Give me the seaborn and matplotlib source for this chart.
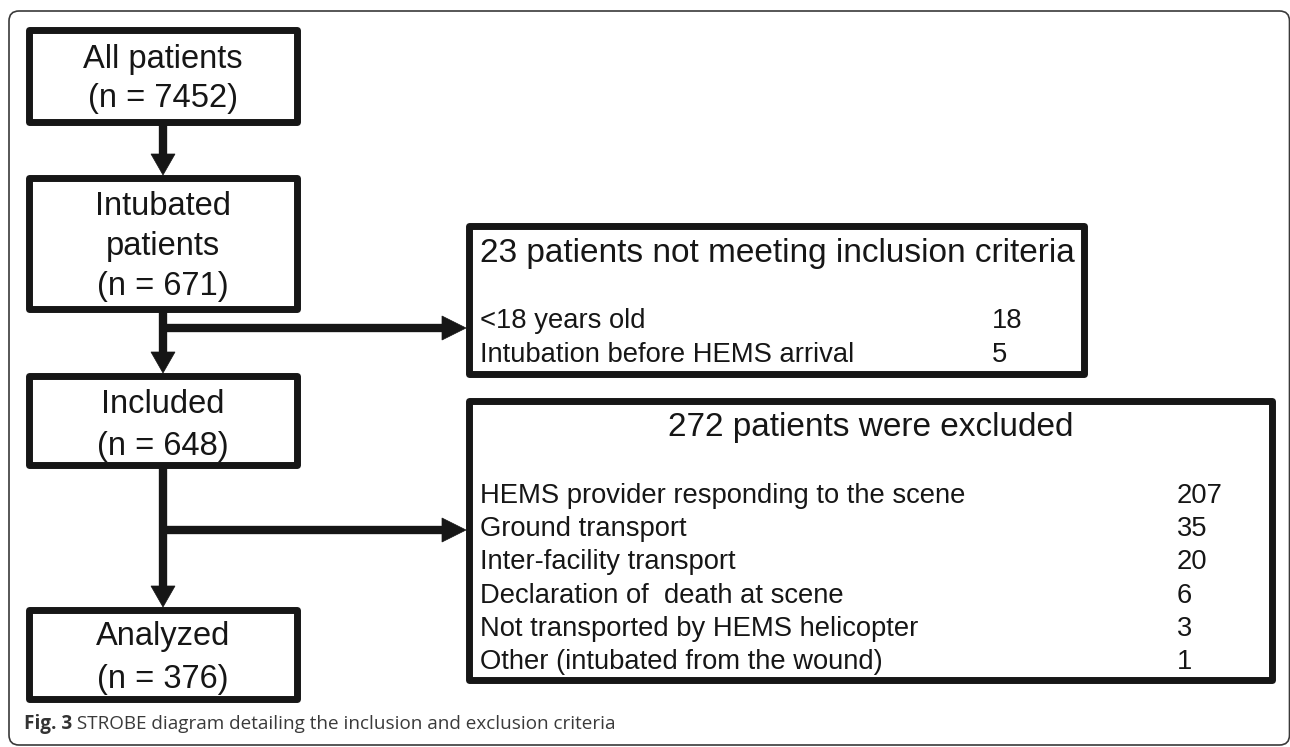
import matplotlib
matplotlib.use("Agg")
import matplotlib.pyplot as plt
from matplotlib.patches import Rectangle, Polygon, FancyBboxPatch
import seaborn as sns

# --- données du diagramme STROBE ---
flow_labels = ["All patients", "Intubated\npatients", "Included", "Analyzed"]
flow_n = [7452, 671, 648, 376]

excl1_reasons = ["<18 years old", "Intubation before HEMS arrival"]
excl1_counts = [18, 5]

excl2_reasons = ["HEMS provider responding to the scene", "Ground transport",
                 "Inter-facility transport", "Declaration of  death at scene",
                 "Not transported by HEMS helicopter", "Other (intubated from the wound)"]
excl2_counts = [207, 35, 20, 6, 3, 1]

caption_bold = "Fig. 3"
caption_text = " STROBE diagram detailing the inclusion and exclusion criteria"

# --- mise en page (pixels, y vers le bas) ---
W, H = 1290, 747
LW_BOX = 5.0
LW_SHAFT = 6.0
INK = "#161616"
FONT = "Liberation Sans"

# boîtes de gauche : (haut, bas) bords extérieurs
left_x0, left_x1 = 26, 300
left_boxes = [(27, 125), (175, 312), (373, 468), (607, 702)]
# lignes de base du texte pour chaque boîte
left_baselines = [[68, 107], [215, 255, 295], [413, 455], [645, 688]]
cx = 163

boxA = (466, 223, 1087, 377)
boxB = (466, 398, 1275, 683)

sns.set_theme(style="white")
plt.rcParams['font.family'] = [FONT, 'DejaVu Sans']

fig = plt.figure(figsize=(W / 100, H / 100), dpi=100)
ax = fig.add_axes([0, 0, 1, 1])
ax.set_xlim(0, W)
ax.set_ylim(H, 0)
ax.axis("off")


def draw_box(x0, y0, x1, y1):
    h = LW_BOX * 100 / 72 / 2
    ax.add_patch(Rectangle((x0 + h, y0 + h), x1 - x0 - 2 * h, y1 - y0 - 2 * h,
                           fill=False, ec=INK, lw=LW_BOX, joinstyle="round"))


def arrow_down(x, y0, y1, hw=12, hl=21):
    ax.plot([x, x], [y0, y1 - hl + 1], color=INK, lw=LW_SHAFT, solid_capstyle="butt")
    ax.add_patch(Polygon([(x - hw, y1 - hl), (x + hw, y1 - hl), (x, y1)], closed=True,
                         fc=INK, ec=INK, lw=0.5))


def arrow_right(y, x0, x1, hw=12, hl=24):
    ax.plot([x0 - 4, x1 - hl + 1], [y, y], color=INK, lw=LW_SHAFT, solid_capstyle="butt")
    ax.add_patch(Polygon([(x1 - hl, y - hw), (x1 - hl, y + hw), (x1, y)], closed=True,
                         fc=INK, ec=INK, lw=0.5))


# cadre extérieur arrondi (le bord droit sort presque de l'image)
ax.add_patch(FancyBboxPatch((9, 11), 1280.5, 734, boxstyle="round,pad=0,rounding_size=10",
                            fill=False, ec="#3a3a3a", lw=1.2))

# boîtes de gauche
for (top, bot), label, n, bases in zip(left_boxes, flow_labels, flow_n, left_baselines):
    draw_box(left_x0, top, left_x1, bot)
    lines = label.split("\n") + [f"(n = {n})"]
    for line, yb in zip(lines, bases):
        ax.text(cx, yb, line, ha="center", va="baseline", fontsize=23.5, color=INK)

# flèches verticales et branches
arrow_down(cx, left_boxes[0][1], left_boxes[1][0])
arrow_down(cx, left_boxes[1][1], left_boxes[2][0])
arrow_down(cx, left_boxes[2][1], left_boxes[3][0])
arrow_right(328, cx, boxA[0])
arrow_right(530, cx, boxB[0])

# boîte A : critères d'inclusion non remplis
draw_box(*boxA)
ax.text(480, 262, f"{sum(excl1_counts)} patients not meeting inclusion criteria",
        ha="left", va="baseline", fontsize=24, color=INK)
for i, (r, c) in enumerate(zip(excl1_reasons, excl1_counts)):
    yb = 328 + i * 34
    ax.text(480, yb, r, ha="left", va="baseline", fontsize=19.7, color=INK)
    ax.text(992, yb, str(c), ha="left", va="baseline", fontsize=19.7, color=INK)

# boîte B : patients exclus
draw_box(*boxB)
ax.text((boxB[0] + boxB[2]) / 2, 436, f"{sum(excl2_counts)} patients were excluded",
        ha="center", va="baseline", fontsize=24, color=INK)
for i, (r, c) in enumerate(zip(excl2_reasons, excl2_counts)):
    yb = 503 + i * 33.2
    ax.text(480, yb, r, ha="left", va="baseline", fontsize=19.7, color=INK)
    ax.text(1177, yb, str(c), ha="left", va="baseline", fontsize=19.7, color=INK)

# légende de la figure
t = ax.text(24, 729, caption_bold, ha="left", va="baseline", fontsize=13.6,
            fontweight="bold", color="#333333", family="Open Sans")
fig.canvas.draw()
bb = t.get_window_extent()
ax.text(24 + bb.width, 729, caption_text, ha="left", va="baseline", fontsize=13.6,
        color="#3a3a3a", family="Open Sans")

fig.savefig("out.png", dpi=100)
